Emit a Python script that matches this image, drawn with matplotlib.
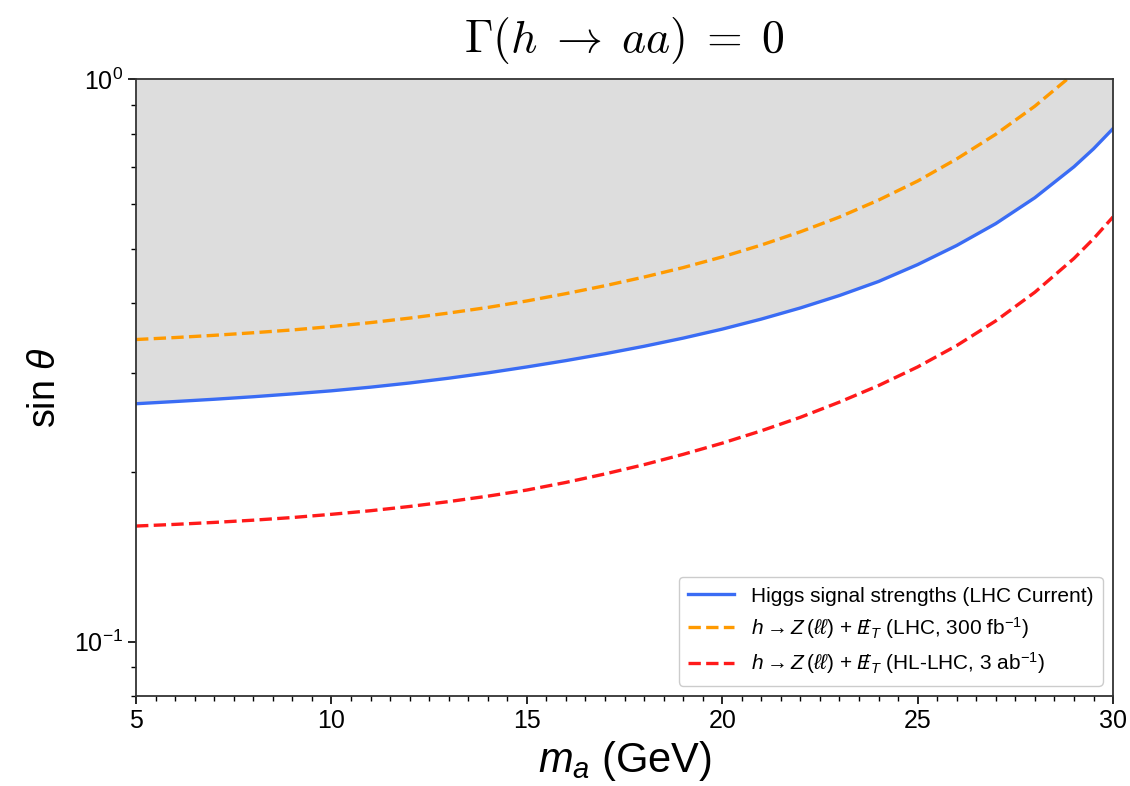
import numpy as np
import matplotlib
matplotlib.use('Agg')
import matplotlib.pyplot as plt
from matplotlib.ticker import MultipleLocator

plt.rcParams['font.family'] = ['Liberation Sans', 'DejaVu Sans']
plt.rcParams['mathtext.fontset'] = 'custom'
plt.rcParams['mathtext.rm'] = 'Liberation Sans'
plt.rcParams['mathtext.it'] = 'Liberation Sans:italic'
plt.rcParams['mathtext.bf'] = 'Liberation Sans:bold'

# m_a (GeV) sample points
m_a = [5, 6, 7, 8, 9, 10, 11, 12, 13, 14, 15, 16, 17, 18, 19, 20,
       21, 22, 23, 24, 25, 26, 27, 28, 29, 29.5, 30]

# Higgs signal strengths (LHC current)
sin_current = [0.2649, 0.2673, 0.2698, 0.2726, 0.2758, 0.2793, 0.2835, 0.2884,
               0.2941, 0.3006, 0.3080, 0.3161, 0.3251, 0.3352, 0.3466, 0.3596,
               0.3747, 0.3922, 0.4127, 0.4371, 0.4684, 0.5066, 0.5541, 0.6161,
               0.6993, 0.7526, 0.8177]
# h -> Z(ll) + MET, LHC 300 fb^-1
sin_lhc = [0.3446, 0.3474, 0.3506, 0.3543, 0.3584, 0.3634, 0.3693, 0.3762,
           0.3841, 0.3930, 0.4036, 0.4159, 0.4296, 0.4451, 0.4627, 0.4834,
           0.5075, 0.5358, 0.5692, 0.6101, 0.6596, 0.7222, 0.7990, 0.8964,
           1.0245, 1.103, 1.195]
# h -> Z(ll) + MET, HL-LHC 3 ab^-1
sin_hllhc = [0.1605, 0.1616, 0.1629, 0.1644, 0.1662, 0.1684, 0.1709, 0.1739,
             0.1774, 0.1814, 0.1860, 0.1919, 0.1987, 0.2064, 0.2153, 0.2254,
             0.2371, 0.2506, 0.2667, 0.2854, 0.3080, 0.3362, 0.3720, 0.4183,
             0.4804, 0.5207, 0.5695]

labels = ['Higgs signal strengths (LHC Current)',
          r'$h \rightarrow Z\,(\ell\ell)$ + $\;/\!\!\!\!E_T$ (LHC, 300 fb$^{-1}$)',
          r'$h \rightarrow Z\,(\ell\ell)$ + $\;/\!\!\!\!E_T$ (HL-LHC, 3 ab$^{-1}$)']

fig = plt.figure(figsize=(11.3, 7.86), dpi=100)
ax = fig.add_axes([0.1204, 0.1145, 0.8646, 0.7844])

ax.fill_between(m_a, sin_current, 1.0, color='#dddddd', lw=0)
ax.plot(m_a, sin_current, color='#3a6cf4', lw=2.4, label=labels[0])
ax.plot(m_a, sin_lhc, color='#ff9a00', lw=2.4, ls='--', label=labels[1])
ax.plot(m_a, sin_hllhc, color='#ff1a1a', lw=2.4, ls='--', label=labels[2])

ax.set_yscale('log')
ax.set_xlim(5, 30)
ax.set_ylim(0.08, 1.0)
ax.xaxis.set_major_locator(MultipleLocator(5))
ax.xaxis.set_minor_locator(MultipleLocator(0.5))

ax.tick_params(which='major', direction='out', length=6, width=1.2, labelsize=18)
ax.tick_params(which='minor', direction='out', length=3.5, width=1.0)
for s in ax.spines.values():
    s.set_linewidth(1.3)
    s.set_color('#333333')

ax.set_xlabel('$m_a$ (GeV)', fontsize=30, labelpad=4)
ax.set_ylabel(r'sin $\theta$', fontsize=27, labelpad=8)
ax.set_title(r'$\Gamma(h \;\rightarrow\; aa) \;=\; 0$', fontsize=33,
             math_fontfamily='cm', pad=20)

ax.legend(loc='lower right', fontsize=15, frameon=True, framealpha=1,
          edgecolor='#cccccc', handlelength=2.2, borderpad=0.45, labelspacing=0.45)

fig.savefig('out.png', dpi=100)
